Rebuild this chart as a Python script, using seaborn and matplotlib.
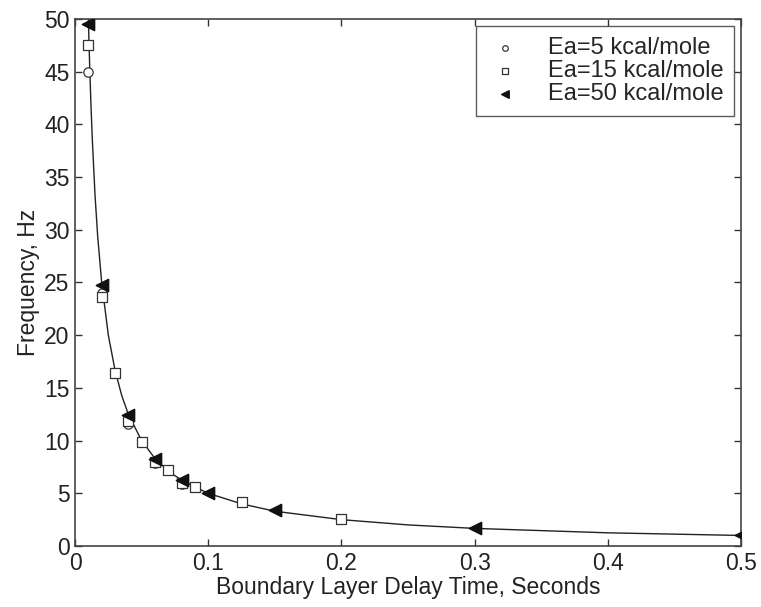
# Frequency vs boundary layer delay time, three activation energies
import seaborn as sns
import matplotlib.pyplot as plt
import pandas as pd

# curve
curve_t = [0.01, 0.011, 0.012, 0.013, 0.015, 0.017, 0.02, 0.025, 0.03, 0.035, 0.04, 0.05,
           0.06, 0.07, 0.08, 0.09, 0.1, 0.125, 0.15, 0.2, 0.25, 0.3, 0.4, 0.5]
curve_f = [50.0, 45.5, 41.7, 38.5, 33.3, 29.4, 25.0, 20.0, 16.7, 14.3, 12.5, 10.0,
           8.3, 7.1, 6.25, 5.6, 5.0, 4.0, 3.3, 2.5, 2.0, 1.67, 1.25, 1.0]

# Ea = 5 kcal/mole (open circles)
t5 = [0.01, 0.02, 0.04, 0.06, 0.08]
f5 = [45.0, 24.0, 11.6, 7.9, 5.9]

# Ea = 15 kcal/mole (open squares)
t15 = [0.01, 0.02, 0.03, 0.04, 0.05, 0.06, 0.07, 0.08, 0.09, 0.125, 0.2]
f15 = [47.5, 23.6, 16.4, 11.9, 9.9, 8.0, 7.2, 6.0, 5.6, 4.2, 2.6]

# Ea = 50 kcal/mole (filled triangles)
t50 = [0.01, 0.02, 0.04, 0.06, 0.08, 0.1, 0.15, 0.3, 0.5]
f50 = [49.5, 24.8, 12.4, 8.3, 6.3, 5.0, 3.4, 1.7, 1.0]

sns.set_style("white")
plt.rcParams['font.family'] = ['Liberation Sans', 'DejaVu Sans']

fig = plt.figure(figsize=(7.61, 6.07), dpi=100)
ax = fig.add_axes([0.0986, 0.1005, 0.8751, 0.8682])

sns.lineplot(x=curve_t, y=curve_f, ax=ax, color='#222222', linewidth=1.0, legend=False)

sns.scatterplot(x=t5, y=f5, ax=ax, marker='o', s=45, facecolors='white',
                edgecolor='#333333', linewidth=0.9, label='Ea=5 kcal/mole', zorder=3)
sns.scatterplot(x=t15, y=f15, ax=ax, marker='s', s=42, facecolors='white',
                edgecolor='#333333', linewidth=0.9, label='Ea=15 kcal/mole', zorder=3)
sns.scatterplot(x=t50, y=f50, ax=ax, marker='<', s=75, color='#111111',
                edgecolor='#111111', linewidth=1.2, label='Ea=50 kcal/mole', zorder=4)

ax.set_xlim(0, 0.5)
ax.set_ylim(0, 50)
ax.set_xticks([0, 0.1, 0.2, 0.3, 0.4, 0.5])
ax.set_xticklabels(['0', '0.1', '0.2', '0.3', '0.4', '0.5'])
ax.set_yticks(range(0, 51, 5))
ax.tick_params(direction='in', length=5, width=1, colors='#333333', labelcolor='#222222',
               labelsize=16.5, top=True, right=True, bottom=True, left=True, pad=4)
for sp in ax.spines.values():
    sp.set_color('#444444')
    sp.set_linewidth(1.2)

ax.set_xlabel('Boundary Layer Delay Time, Seconds', fontsize=16.5, color='#222222', labelpad=1)
ax.set_ylabel('Frequency, Hz', fontsize=16.5, color='#222222', labelpad=3)

leg = ax.legend(loc='upper right', fontsize=17, frameon=True, fancybox=False,
                borderaxespad=0.3, handletextpad=1.0, handlelength=1.6, markerscale=0.6,
                labelspacing=0.05, borderpad=0.45)
leg.get_frame().set_edgecolor('#333333')
leg.get_frame().set_linewidth(1.0)

fig.savefig('out.png', dpi=100)
